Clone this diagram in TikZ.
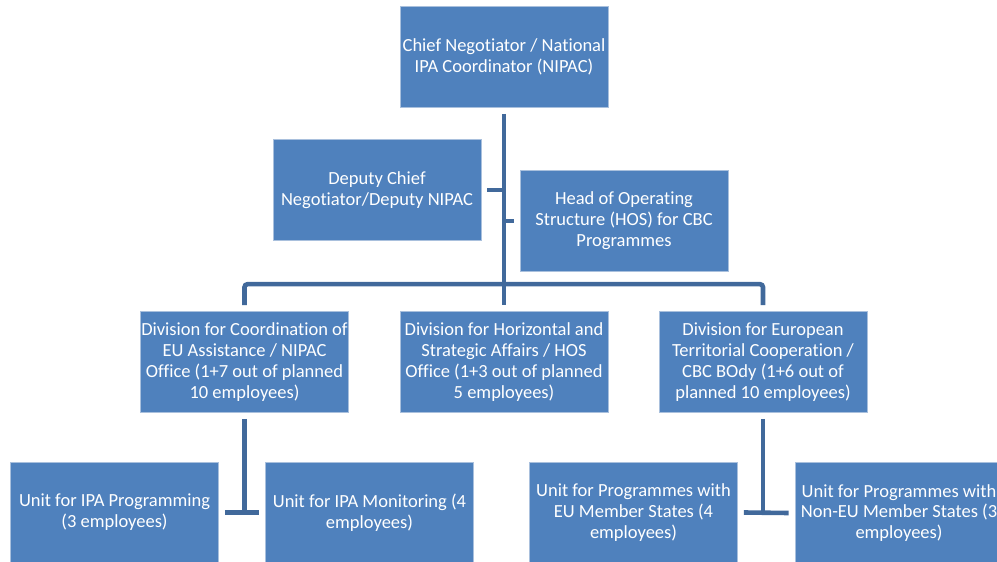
\documentclass[tikz,border=0pt]{standalone}
\usepackage{fontspec}
\setmainfont{Carlito}[RawFeature={-liga;-clig;-calt}]
\definecolor{boxblue}{HTML}{4F81BD}
\definecolor{boxedge}{HTML}{A9C0DD}
\definecolor{linkblue}{HTML}{41699B}
\begin{document}
\begin{tikzpicture}[x=1bp,y=-1bp,
  orgbox/.style={rectangle, fill=boxblue, draw=boxedge, line width=0.6bp,
    minimum width=208bp, minimum height=101bp, inner sep=0pt,
    text=white, align=center, font=\fontsize{18.5bp}{20.9bp}\selectfont},
  conn/.style={draw=linkblue, line width=4.6bp}]
\useasboundingbox (0,0) rectangle (997,562);
\clip (0,0) rectangle (997,562);

\node[orgbox] (top) at (504,57) {Chief Negotiator / National\\IPA Coordinator (NIPAC)};
\node[orgbox] (dep) at (377,190) {Deputy Chief\\Negotiator/Deputy NIPAC};
\node[orgbox] (hos) at (624,221) {Head of Operating\\Structure (HOS) for CBC\\Programmes};

\node[orgbox] (div1) at (244.5,362) {Division for Coordination of\\EU Assistance / NIPAC\\Office (1+7 out of planned\\10 employees)};
\node[orgbox] (div2) at (504,362) {Division for Horizontal and\\Strategic Affairs / HOS\\Office (1+3 out of planned\\5 employees)};
\node[orgbox] (div3) at (763,362) {Division for European\\Territorial Cooperation /\\CBC BOdy (1+6 out of\\planned 10 employees)};

\node[orgbox] (u1) at (114.5,512.5) {Unit for IPA Programming\\(3 employees)};
\node[orgbox] (u2) at (369.5,512.5) {Unit for IPA Monitoring (4\\employees)};
\node[orgbox] (u3) at (633.5,512.5) {Unit for Programmes with\\EU Member States (4\\employees)};
\node[orgbox] (u4) at (899,513) {Unit for Programmes with\\Non-EU Member States (3\\employees)};

% trunk
\draw[conn] ([yshift=-6bp]top.south) -- ([yshift=6bp]div2.north);
\draw[conn] ([xshift=6bp]dep.east) -- (top.south |- dep.east);
\draw[conn] (top.south |- hos.west) -- ([xshift=-6bp]hos.west);
% bar to divisions
\draw[conn, rounded corners=3bp] ([yshift=6bp]div1.north) -- ++(0,-21) -| ([yshift=6bp]div3.north);
% left units
\draw[conn] ([yshift=-6bp]div1.south) -- (div1.south |- u1.east);
\draw[conn] ([xshift=6bp]u1.east) -- ([xshift=-6bp]u2.west);
% right units
\draw[conn] ([yshift=-6bp]div3.south) -- (div3.south |- u3.east);
\draw[conn] ([xshift=6bp]u3.east) -- ([xshift=-6bp]u4.west);
\end{tikzpicture}
\end{document}
